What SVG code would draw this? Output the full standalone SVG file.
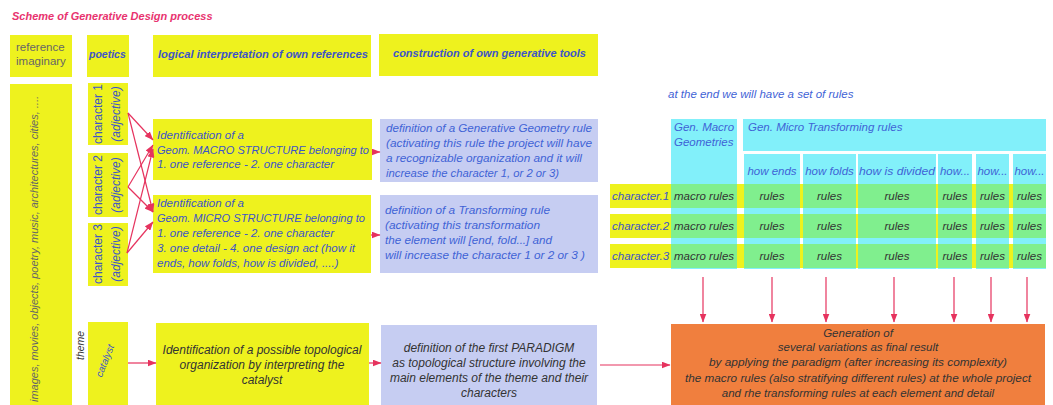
<svg xmlns="http://www.w3.org/2000/svg" width="1053" height="405" viewBox="0 0 1053 405">
<defs>
<marker id="ah" markerWidth="9" markerHeight="7" refX="8.5" refY="3.5" orient="auto" markerUnits="userSpaceOnUse">
<path d="M0,0 L9,3.5 L0,7 Z" fill="#e6335e"/>
</marker>
<style>
.y{fill:#eef21e}
.lav{fill:#c6cdf2}
.cy{fill:#82f0fa}
.gr{fill:#80ef8e}
.or{fill:#f07f3e}
text{font-family:"Liberation Sans",Arial,sans-serif;font-size:11.5px}
.it{font-style:italic}
.bl{fill:#3d55c8}
.bl2{fill:#3f63d6}
.gy{fill:#666}
.dk{fill:#333}
.hd{font-weight:bold;font-style:italic;fill:#3d55c8;font-size:10.5px}
.c{text-anchor:middle}
.ln{stroke:#e6335e;stroke-width:1.2;fill:none;marker-end:url(#ah)}
</style>
</defs>
<rect width="1053" height="405" fill="#fff"/>
<text x="12" y="20" style="font-weight:bold;font-style:italic;fill:#e8336f;font-size:11px">Scheme of Generative Design process</text>

<g id="hdr-ref"><rect class="y" x="10" y="35" width="62" height="42"/><text class="gy" x="16" y="51">reference</text><text class="gy" x="16" y="65">imaginary</text></g>
<g id="hdr-poetics"><rect class="y" x="87" y="35" width="42" height="42"/><text class="hd" x="89" y="58">poetics</text></g>
<g id="hdr-logical"><rect class="y" x="153" y="35" width="218" height="42"/><text class="hd" x="158" y="58" textLength="210" lengthAdjust="spacingAndGlyphs">logical interpretation of own references</text></g>
<g id="hdr-construction"><rect class="y" x="379" y="34" width="219" height="42"/><text class="hd" x="393" y="57" textLength="193" lengthAdjust="spacingAndGlyphs">construction of own generative tools</text></g>

<g id="references"><rect class="y" x="10" y="84" width="62" height="321"/><text class="gy it" transform="translate(38,402) rotate(-90)" textLength="306" lengthAdjust="spacingAndGlyphs">images, movies, objects, poetry, music, architectures, cities, ....</text></g>

<g id="char1"><rect class="y" x="88" y="83" width="40" height="62"/><text class="bl c" transform="translate(102,114) rotate(-90)" style="font-size:12px">character 1</text><text class="bl it c" transform="translate(120,114) rotate(-90)" style="font-size:12px">(adjective)</text></g>
<g id="char2"><rect class="y" x="88" y="153" width="40" height="64"/><text class="bl c" transform="translate(102,185) rotate(-90)" style="font-size:12px">character 2</text><text class="bl it c" transform="translate(120,185) rotate(-90)" style="font-size:12px">(adjective)</text></g>
<g id="char3"><rect class="y" x="88" y="223" width="40" height="63"/><text class="bl c" transform="translate(102,254) rotate(-90)" style="font-size:12px">character 3</text><text class="bl it c" transform="translate(120,254) rotate(-90)" style="font-size:12px">(adjective)</text></g>
<g id="theme"><text class="dk it" transform="translate(84,360) rotate(-90)" style="font-size:10.5px">theme</text></g>
<g id="catalyst"><rect class="y" x="88" y="322" width="40" height="83"/><text class="bl it c" transform="translate(108,362) rotate(-68)" style="font-size:10px">catalyst</text></g>

<g id="macro-id"><rect class="y" x="153" y="119" width="219" height="61"/>
<text class="bl it" x="157" y="139">Identification of a</text>
<text class="bl it" x="157" y="154" textLength="212" lengthAdjust="spacingAndGlyphs">Geom. MACRO STRUCTURE belonging to</text>
<text class="bl it" x="157" y="168">1. one reference - 2. one character</text></g>
<g id="micro-id"><rect class="y" x="153" y="195" width="218" height="78"/>
<text class="bl it" x="157" y="207">Identification of a</text>
<text class="bl it" x="157" y="222" textLength="208" lengthAdjust="spacingAndGlyphs">Geom. MICRO STRUCTURE belonging to</text>
<text class="bl it" x="157" y="237">1. one reference - 2. one character</text>
<text class="bl it" x="157" y="252" textLength="198" lengthAdjust="spacingAndGlyphs">3. one detail - 4. one design act (how it</text>
<text class="bl it" x="157" y="267">ends, how folds, how is divided, ....)</text></g>

<g id="gen-geom"><rect class="lav" x="380" y="119" width="218" height="63"/>
<text class="bl2 it" x="386" y="132" textLength="206" lengthAdjust="spacingAndGlyphs">definition of a Generative Geometry rule</text>
<text class="bl2 it" x="386" y="147" textLength="206" lengthAdjust="spacingAndGlyphs">(activating this rule the project will have</text>
<text class="bl2 it" x="386" y="162" textLength="196" lengthAdjust="spacingAndGlyphs">a recognizable organization and it will</text>
<text class="bl2 it" x="386" y="177" textLength="173" lengthAdjust="spacingAndGlyphs">increase the character 1, or 2 or 3)</text></g>
<g id="transf"><rect class="lav" x="380" y="195" width="218" height="78"/>
<text class="bl2 it" x="385" y="214" textLength="165" lengthAdjust="spacingAndGlyphs">definition of a Transforming rule</text>
<text class="bl2 it" x="385" y="229" textLength="155" lengthAdjust="spacingAndGlyphs">(activating this transformation</text>
<text class="bl2 it" x="385" y="244" textLength="167" lengthAdjust="spacingAndGlyphs">the element will [end, fold...] and</text>
<text class="bl2 it" x="385" y="259" textLength="200" lengthAdjust="spacingAndGlyphs">will increase the character 1 or 2 or 3    )</text></g>

<g id="topo"><rect class="y" x="156" y="323" width="213" height="82"/>
<text class="dk it c" x="262" y="354" style="font-size:12px">Identification of a possible topological</text>
<text class="dk it c" x="262" y="369" style="font-size:12px">organization by interpreting the</text>
<text class="dk it c" x="262" y="384" style="font-size:12px">catalyst</text></g>
<g id="paradigm"><rect class="lav" x="381" y="325" width="216" height="80"/>
<text class="dk it c" x="489" y="352" style="font-size:12px">definition of the first PARADIGM</text>
<text class="dk it c" x="489" y="367" style="font-size:12px">as topological structure involving the</text>
<text class="dk it c" x="489" y="382" style="font-size:12px">main elements of the theme and their</text>
<text class="dk it c" x="489" y="397" style="font-size:12px">characters</text></g>

<text class="bl2 it" x="668" y="98">at the end we will have a set of rules</text>

<g id="table">
<rect class="cy" x="671" y="119" width="66" height="150"/>
<rect class="cy" x="743" y="119" width="303" height="32"/>
<rect class="cy" x="744" y="154" width="56" height="115"/>
<rect class="cy" x="803" y="154" width="53" height="115"/>
<rect class="cy" x="858" y="154" width="78" height="115"/>
<rect class="cy" x="938" y="154" width="34" height="115"/>
<rect class="cy" x="976" y="154" width="33" height="115"/>
<rect class="cy" x="1013" y="154" width="33" height="115"/>
<text class="bl2 it" x="674" y="131">Gen. Macro</text>
<text class="bl2 it" x="674" y="146">Geometries</text>
<text class="bl2 it" x="748" y="131">Gen. Micro Transforming rules</text>
<text class="bl2 it c" x="772" y="175">how ends</text>
<text class="bl2 it c" x="829.5" y="175">how folds</text>
<text class="bl2 it c" x="897" y="175" textLength="76" lengthAdjust="spacingAndGlyphs">how is divided</text>
<text class="bl2 it c" x="955" y="175">how...</text>
<text class="bl2 it c" x="992.5" y="175">how...</text>
<text class="bl2 it c" x="1029.5" y="175">how...</text>
<rect class="y" x="610" y="184" width="436" height="24"/>
<rect class="y" x="610" y="214" width="436" height="24"/>
<rect class="y" x="610" y="244" width="436" height="24"/>
<g class="gr">
<rect x="671" y="184" width="66" height="24"/><rect x="744" y="184" width="56" height="24"/><rect x="803" y="184" width="53" height="24"/><rect x="858" y="184" width="78" height="24"/><rect x="938" y="184" width="34" height="24"/><rect x="976" y="184" width="33" height="24"/><rect x="1013" y="184" width="33" height="24"/>
<rect x="671" y="214" width="66" height="24"/><rect x="744" y="214" width="56" height="24"/><rect x="803" y="214" width="53" height="24"/><rect x="858" y="214" width="78" height="24"/><rect x="938" y="214" width="34" height="24"/><rect x="976" y="214" width="33" height="24"/><rect x="1013" y="214" width="33" height="24"/>
<rect x="671" y="244" width="66" height="24"/><rect x="744" y="244" width="56" height="24"/><rect x="803" y="244" width="53" height="24"/><rect x="858" y="244" width="78" height="24"/><rect x="938" y="244" width="34" height="24"/><rect x="976" y="244" width="33" height="24"/><rect x="1013" y="244" width="33" height="24"/>
</g>
<text class="bl it" x="612" y="200">character.1</text>
<text class="bl it" x="612" y="230">character.2</text>
<text class="bl it" x="612" y="260">character.3</text>
<g>
<text x="704" y="200" class="dk it c">macro rules</text><text x="772" y="200" class="dk it c">rules</text><text x="829.5" y="200" class="dk it c">rules</text><text x="897" y="200" class="dk it c">rules</text><text x="955" y="200" class="dk it c">rules</text><text x="992.5" y="200" class="dk it c">rules</text><text x="1029.5" y="200" class="dk it c">rules</text>
<text x="704" y="230" class="dk it c">macro rules</text><text x="772" y="230" class="dk it c">rules</text><text x="829.5" y="230" class="dk it c">rules</text><text x="897" y="230" class="dk it c">rules</text><text x="955" y="230" class="dk it c">rules</text><text x="992.5" y="230" class="dk it c">rules</text><text x="1029.5" y="230" class="dk it c">rules</text>
<text x="704" y="260" class="dk it c">macro rules</text><text x="772" y="260" class="dk it c">rules</text><text x="829.5" y="260" class="dk it c">rules</text><text x="897" y="260" class="dk it c">rules</text><text x="955" y="260" class="dk it c">rules</text><text x="992.5" y="260" class="dk it c">rules</text><text x="1029.5" y="260" class="dk it c">rules</text>
</g>
</g>

<g id="result"><rect class="or" x="671" y="324" width="374" height="81"/>
<text class="dk it c" x="858" y="337">Generation of</text>
<text class="dk it c" x="858" y="351">several variations as final result</text>
<text class="dk it c" x="858" y="366" textLength="298" lengthAdjust="spacingAndGlyphs">by applying the paradigm (after increasing its complexity)</text>
<text class="dk it c" x="858" y="382" textLength="346" lengthAdjust="spacingAndGlyphs">the macro rules (also stratifying different rules) at the whole project</text>
<text class="dk it c" x="858" y="397">and rhe transforming rules at each element and detail</text></g>

<g id="connectors">
<line class="ln" x1="128" y1="113" x2="153" y2="140"/>
<line class="ln" x1="128" y1="113" x2="153" y2="212"/>
<line class="ln" x1="128" y1="187" x2="153" y2="145"/>
<line class="ln" x1="128" y1="187" x2="153" y2="212"/>
<line class="ln" x1="127" y1="253" x2="153" y2="149"/>
<line class="ln" x1="127" y1="253" x2="153" y2="222"/>
<line class="ln" x1="372" y1="152" x2="380" y2="152"/>
<line class="ln" x1="371" y1="235" x2="380" y2="235"/>
<line class="ln" x1="128" y1="363" x2="156" y2="363"/>
<line class="ln" x1="369" y1="363" x2="381" y2="363"/>
<line class="ln" x1="600" y1="365" x2="670" y2="365"/>
<line class="ln" x1="703" y1="277" x2="703" y2="322"/>
<line class="ln" x1="772" y1="277" x2="772" y2="322"/>
<line class="ln" x1="826" y1="277" x2="826" y2="322"/>
<line class="ln" x1="894" y1="277" x2="894" y2="322"/>
<line class="ln" x1="954" y1="277" x2="954" y2="322"/>
<line class="ln" x1="991" y1="277" x2="991" y2="322"/>
<line class="ln" x1="1027" y1="277" x2="1027" y2="322"/>
</g>
</svg>
